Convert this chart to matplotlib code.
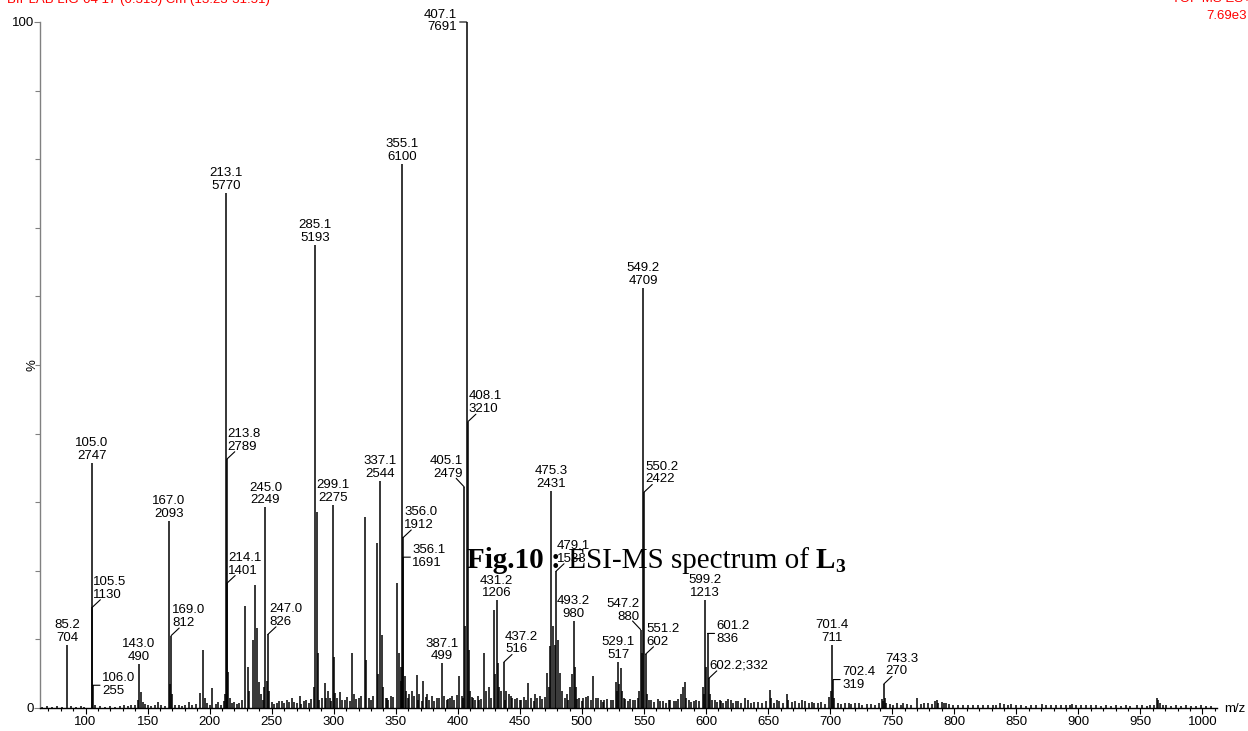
import numpy as np
import matplotlib
matplotlib.use("Agg")
import matplotlib.pyplot as plt
from matplotlib.ticker import FixedLocator, MultipleLocator

plt.rcParams["font.family"] = ["Liberation Sans", "DejaVu Sans"]

BASE_PEAK = 7691          # counts of the base peak (100 %)

# ---- labelled peaks: m/z and raw intensity (counts) ----
label_mz = [85.2, 105.0, 105.5, 106.0, 143.0, 167.0, 169.0, 213.1, 213.8, 214.1,
            245.0, 247.0, 285.1, 299.1, 337.1, 355.1, 356.0, 356.1, 387.1, 405.1,
            407.1, 408.1, 431.2, 437.2, 475.3, 479.1, 493.2, 529.1, 547.2, 549.2,
            550.2, 551.2, 599.2, 601.2, 602.2, 701.4, 702.4, 743.3]
label_int = [704, 2747, 1130, 255, 490, 2093, 812, 5770, 2789, 1401,
             2249, 826, 5193, 2275, 2544, 6100, 1912, 1691, 499, 2479,
             7691, 3210, 1206, 516, 2431, 1533, 980, 517, 880, 4709,
             2422, 602, 1213, 836, 332, 711, 319, 270]

# ---- unlabelled fragment peaks (m/z, relative intensity %) ----
minor_mz = [142.0, 144.6, 146.0, 158.6, 168.0, 170.0, 183.3, 192.2, 194.9, 196.0,
            202.1, 211.5, 212.3, 215.0, 216.0, 228.7, 230.6, 232.0, 234.6, 236.8,
            238.4, 239.7, 241.0, 244.0, 246.0, 248.0, 256.0, 262.0, 266.0, 268.0,
            272.8, 276.0, 284.1, 286.1, 287.1, 290.5, 292.9, 295.0, 297.0, 300.1,
            301.1, 305.0, 309.0, 314.9, 316.0, 320.0, 325.1, 326.1, 328.0, 334.8,
            336.0, 338.6, 340.0, 343.0, 346.0, 350.7, 352.8, 353.8, 354.5, 357.3,
            358.5, 361.0, 363.0, 366.8, 369.0, 372.1, 375.0, 379.0, 383.0, 392.0,
            395.0, 401.1, 403.5, 406.1, 409.2, 410.1, 412.0, 417.0, 421.3, 423.0,
            425.0, 429.3, 430.2, 432.6, 433.5, 435.0, 439.0, 441.0, 444.0, 448.0,
            451.0, 456.7, 462.0, 466.0, 471.6, 473.3, 474.3, 476.3, 478.2, 480.9,
            482.0, 484.0, 488.0, 490.0, 491.7, 494.4, 495.3, 498.0, 501.0, 505.0,
            509.1, 513.0, 518.0, 523.0, 527.4, 528.2, 530.2, 531.4, 532.5, 535.0,
            541.0, 545.0, 546.2, 548.2, 552.2, 556.0, 563.0, 571.0, 576.0, 579.5,
            581.1, 583.0, 584.0, 590.0, 597.3, 598.2, 600.2, 603.2, 607.0, 612.0,
            618.0, 624.0, 631.0, 639.0, 651.5, 652.5, 659.0, 665.4, 666.0, 672.0,
            680.0, 687.0, 699.3, 700.4, 703.4, 715.0, 720.0, 730.0, 741.5, 742.3,
            744.3, 745.3, 759.0, 769.7, 784.5, 785.8, 787.0, 790.0, 793.0, 836.8,
            846.0, 871.0, 895.0, 947.0, 963.6, 964.5, 966.0, 968.0]
minor_pct = [1.2, 2.4, 0.9, 0.9, 3.5, 2.0, 0.9, 2.2, 8.5, 1.5,
             2.9, 1.0, 2.0, 5.3, 1.5, 14.9, 6.0, 2.5, 9.9, 17.9,
             11.6, 3.8, 2.0, 3.0, 4.0, 2.5, 1.0, 1.2, 1.5, 0.9,
             1.8, 1.0, 3.0, 28.6, 8.0, 1.5, 3.6, 2.5, 1.5, 7.5,
             2.2, 2.4, 1.2, 8.0, 2.0, 1.5, 27.9, 7.0, 1.5, 24.0,
             5.0, 10.6, 3.0, 1.5, 1.8, 18.2, 8.0, 6.0, 4.0, 4.6,
             2.5, 2.0, 2.5, 4.8, 2.0, 4.0, 2.0, 1.8, 1.5, 1.3,
             1.8, 4.6, 1.8, 11.9, 8.5, 2.5, 1.5, 1.2, 8.0, 2.5,
             3.0, 14.3, 5.0, 6.5, 3.0, 2.5, 2.5, 2.0, 1.5, 1.5,
             1.2, 3.6, 2.0, 1.8, 5.1, 3.0, 9.0, 12.0, 9.2, 9.9,
             5.1, 2.5, 2.0, 3.0, 5.0, 6.0, 3.0, 1.5, 1.5, 1.8,
             4.6, 1.5, 1.2, 1.2, 3.8, 2.5, 3.5, 5.8, 2.5, 1.3,
             1.2, 1.5, 2.5, 8.0, 2.0, 1.2, 1.0, 1.2, 1.0, 2.0,
             3.0, 3.8, 1.5, 1.0, 3.0, 2.0, 6.0, 2.0, 1.2, 1.0,
             1.3, 1.0, 1.5, 0.9, 2.6, 1.5, 1.0, 2.0, 1.2, 1.0,
             1.0, 0.8, 1.6, 2.5, 1.5, 0.7, 0.8, 0.6, 1.3, 1.0,
             1.5, 0.8, 0.7, 1.5, 1.0, 1.2, 0.8, 0.9, 0.7, 0.7,
             0.6, 0.6, 0.6, 0.5, 1.5, 1.1, 0.7, 0.5]

# ---- baseline chemical noise (m/z, relative intensity %) ----
noise_peaks = [
    (65, 0.2), (69, 0.3), (73, 0.2), (77, 0.3), (81, 0.2), (88, 0.3), (92, 0.2),
    (96, 0.3), (99, 0.2), (108, 0.4), (112, 0.3), (116, 0.2), (120, 0.3), (124, 0.2),
    (128, 0.3), (131, 0.4), (134, 0.3), (137, 0.5), (140, 0.4), (148, 0.6), (150, 0.4),
    (153, 0.3), (156, 0.5), (161, 0.4), (164, 0.3), (172, 0.5), (175, 0.4), (178, 0.3),
    (180, 0.5), (186, 0.4), (189, 0.6), (198, 0.8), (200, 0.5), (205, 0.6), (207, 0.9),
    (209, 0.5), (218, 0.7), (220, 0.9), (222, 0.6), (224, 0.8), (226, 1.1), (243, 1.2),
    (250, 0.9), (252, 0.6), (254, 0.8), (258, 1.0), (260, 0.7), (264, 0.9), (270, 0.8),
    (274, 0.6), (278, 1.1), (280, 0.8), (282, 1.3), (288, 1.2), (294, 1.4), (298, 1.0),
    (303, 1.5), (307, 1.1), (311, 1.6), (313, 1.0), (318, 1.3), (322, 1.7), (330, 1.2),
    (332, 1.8), (342, 1.5), (344, 1.1), (348, 1.6), (360, 1.4), (365, 1.8), (368, 1.2),
    (371, 1.0), (374, 1.6), (377, 1.2), (381, 1.0), (385, 1.4), (389, 1.7), (391, 1.1),
    (394, 1.5), (397, 1.2), (399, 1.9), (404, 1.4), (411, 1.6), (414, 1.2), (416, 1.8),
    (419, 1.3), (427, 1.5), (438, 1.2), (443, 1.7), (446, 1.3), (450, 1.1), (453, 1.6),
    (455, 1.2), (459, 1.4), (461, 1.0), (464, 1.5), (468, 1.3), (470, 1.6), (486, 1.5),
    (489, 1.2), (496, 1.3), (500, 1.0), (503, 1.6), (507, 1.2), (511, 1.4), (515, 1.1),
    (517, 0.9), (520, 1.3), (525, 1.1), (534, 1.4), (537, 1.0), (539, 1.3), (543, 1.1),
    (554, 1.2), (558, 0.9), (561, 1.3), (565, 1.0), (568, 0.8), (570, 1.2), (574, 1.0),
    (577, 1.3), (586, 1.1), (588, 0.9), (592, 1.2), (594, 1.0), (605, 1.1), (609, 0.9),
    (611, 1.2), (614, 0.8), (616, 1.0), (620, 1.1), (622, 0.8), (626, 1.0), (628, 0.7),
    (634, 1.2), (636, 0.8), (642, 0.9), (645, 0.7), (648, 1.0), (655, 0.8), (657, 1.1),
    (662, 0.7), (669, 0.9), (675, 0.8), (677, 1.1), (683, 0.7), (685, 0.9), (690, 0.7),
    (693, 0.9), (696, 0.6), (706, 0.8), (709, 0.6), (712, 0.7), (717, 0.6), (723, 0.7),
    (726, 0.5), (733, 0.6), (736, 0.5), (739, 0.7), (748, 0.6), (751, 0.5), (754, 0.7),
    (757, 0.5), (762, 0.6), (765, 0.5), (773, 0.6), (776, 0.8), (779, 0.7), (782, 0.6),
    (792, 0.7), (796, 0.6), (799, 0.5), (803, 0.5), (807, 0.4), (811, 0.5), (815, 0.4),
    (819, 0.5), (823, 0.4), (827, 0.5), (831, 0.4), (834, 0.5), (840, 0.6), (843, 0.5),
    (850, 0.4), (854, 0.5), (858, 0.3), (862, 0.4), (866, 0.5), (874, 0.4), (878, 0.5),
    (882, 0.4), (886, 0.5), (890, 0.4), (893, 0.5), (898, 0.4), (902, 0.5), (906, 0.4),
    (910, 0.5), (914, 0.4), (918, 0.3), (922, 0.4), (926, 0.3), (930, 0.4), (934, 0.3),
    (938, 0.4), (942, 0.3), (951, 0.4), (955, 0.3), (958, 0.4), (961, 0.5), (971, 0.4),
    (975, 0.3), (979, 0.4), (983, 0.3), (987, 0.4), (991, 0.3), (995, 0.3), (999, 0.4),
    (1003, 0.3), (1007, 0.3),
]

# axis ticks
xtick_values = [100, 150, 200, 250, 300, 350, 400, 450, 500, 550,
                600, 650, 700, 750, 800, 850, 900, 950, 1000]
ytick_values = [0, 100]

# how each peak annotation is attached to its stick
label_style = {
    105.5: "ur", 106.0: "r", 169.0: "ur", 213.8: "ur", 214.1: "ur", 247.0: "ur",
    356.0: "ur", 356.1: "r", 405.1: "ul", 407.1: "l", 408.1: "ur", 437.2: "ur",
    479.1: "ur", 547.2: "ul", 550.2: "ur", 551.2: "ur", 601.2: "r", 602.2: "ur",
    702.4: "r", 743.3: "ur",
}
single_line = {602.2}

W, H = 1248, 731
fig = plt.figure(figsize=(W / 100, H / 100), dpi=100)
ax = fig.add_axes([40 / W, 23 / H, (1217 - 40) / W, 686 / H])

label_pct = [c / BASE_PEAK * 100 for c in label_int]
noise_mz = [p[0] for p in noise_peaks]
noise_pct = [p[1] for p in noise_peaks]

stick_kw = dict(color="black", linewidth=1.1)
ax.vlines(noise_mz, 0, noise_pct, **stick_kw)
ax.vlines(minor_mz, 0, minor_pct, **stick_kw)
ax.vlines(label_mz, 0, label_pct, **stick_kw)

ax.set_xlim(63.3, 1011.7)
ax.set_ylim(0, 100)

# annotations
lab_font = dict(fontsize=9.5, linespacing=1.1, color="black")
lead_kw = dict(arrowstyle="-", lw=0.8, color="black", shrinkA=0, shrinkB=0)
for mz, cnt, pct in zip(label_mz, label_int, label_pct):
    if mz in single_line:
        txt = f"{mz:.1f};{cnt}"
    else:
        txt = f"{mz:.1f}\n{cnt}"
    style = label_style.get(mz, "c")
    if style == "c":
        ax.annotate(txt, xy=(mz, pct), xytext=(0, 1), textcoords="offset pixels",
                    ha="center", va="bottom", **lab_font)
    elif style == "ur":
        ax.annotate("", xy=(mz, pct), xytext=(8, 7.5), textcoords="offset pixels",
                    arrowprops=lead_kw)
        ax.annotate(txt, xy=(mz, pct), xytext=(1, 6.5), textcoords="offset pixels",
                    ha="left", va="bottom", **lab_font)
    elif style == "ul":
        ax.annotate("", xy=(mz, pct), xytext=(-8, 8.5), textcoords="offset pixels",
                    arrowprops=lead_kw)
        ax.annotate(txt, xy=(mz, pct), xytext=(-1, 6.5), textcoords="offset pixels",
                    ha="right", va="bottom", **lab_font)
    elif style == "r":
        ax.annotate("", xy=(mz, pct), xytext=(7, 0), textcoords="offset pixels",
                    arrowprops=lead_kw)
        ax.annotate(txt, xy=(mz, pct), xytext=(9, 1), textcoords="offset pixels",
                    ha="left", va="center", **lab_font)
    elif style == "l":
        ax.annotate("", xy=(mz, pct), xytext=(-7, 0), textcoords="offset pixels",
                    arrowprops=lead_kw)
        ax.annotate(txt, xy=(mz, pct), xytext=(-9.5, 1), textcoords="offset pixels",
                    ha="right", va="center", **lab_font)

# axes styling
for side in ("top", "right"):
    ax.spines[side].set_visible(False)
ax.spines["left"].set_color("#808080")
ax.spines["left"].set_linewidth(1.0)
ax.spines["bottom"].set_color("black")
ax.spines["bottom"].set_linewidth(1.0)

ax.xaxis.set_major_locator(FixedLocator(xtick_values))
ax.set_xticklabels([str(v) for v in xtick_values])
ax.xaxis.set_minor_locator(MultipleLocator(10))
ax.yaxis.set_major_locator(FixedLocator(ytick_values))
ax.set_yticklabels([str(v) for v in ytick_values])
ax.yaxis.set_minor_locator(MultipleLocator(10))

ax.tick_params(axis="x", which="major", length=4.5, width=0.8, pad=1.5,
               labelsize=9.5, color="black")
ax.tick_params(axis="x", which="minor", length=2.3, width=0.8, color="black")
ax.tick_params(axis="y", which="major", length=4.0, width=0.8, pad=0.5,
               labelsize=9.5, color="#808080")
ax.tick_params(axis="y", which="minor", length=3.5, width=0.8, color="#808080")

fig.text(33 / W, 1 - 365 / H, "%", rotation=90, ha="center", va="center",
         fontsize=9.5)
fig.text(1224 / W, 1 - 709 / H, "m/z", ha="left", va="center", fontsize=9.5)

# header lines of the acquisition (top edge of the page trims them)
red = "#ff0000"
fig.text(7 / W, 1 - 3 / H, "BIPLAB LIG-04 17 (0.315) Cm (13:23-31:51)",
         ha="left", va="baseline", color=red, fontsize=9.5)
fig.text(1251 / W, 1 - 2.5 / H, "TOF MS ES+", ha="right", va="baseline",
         color=red, fontsize=9.5)
fig.text(1247 / W, 1 - 19 / H, "7.69e3", ha="right", va="baseline",
         color=red, fontsize=9.5)

# figure caption, mixed bold / regular serif
serif = ["Liberation Serif", "DejaVu Serif"]
cap_size = 21
t1 = fig.text(467 / W, 1 - 568 / H, "Fig.10 :", family=serif, fontweight="bold",
              fontsize=cap_size, ha="left", va="baseline")
t2 = ax.annotate(" ESI-MS spectrum of ", xy=(1, 0), xycoords=t1, ha="left",
                 va="bottom", family=serif, fontsize=cap_size, annotation_clip=False)
t3 = ax.annotate("L", xy=(1, 0), xycoords=t2, ha="left", va="bottom",
                 family=serif, fontweight="bold", fontsize=cap_size,
                 annotation_clip=False)
ax.annotate("3", xy=(1, 0), xycoords=t3, xytext=(0, -1.5),
            textcoords="offset points", ha="left", va="bottom", family=serif,
            fontweight="bold", fontsize=14, annotation_clip=False)

fig.savefig("out.png", dpi=100)
